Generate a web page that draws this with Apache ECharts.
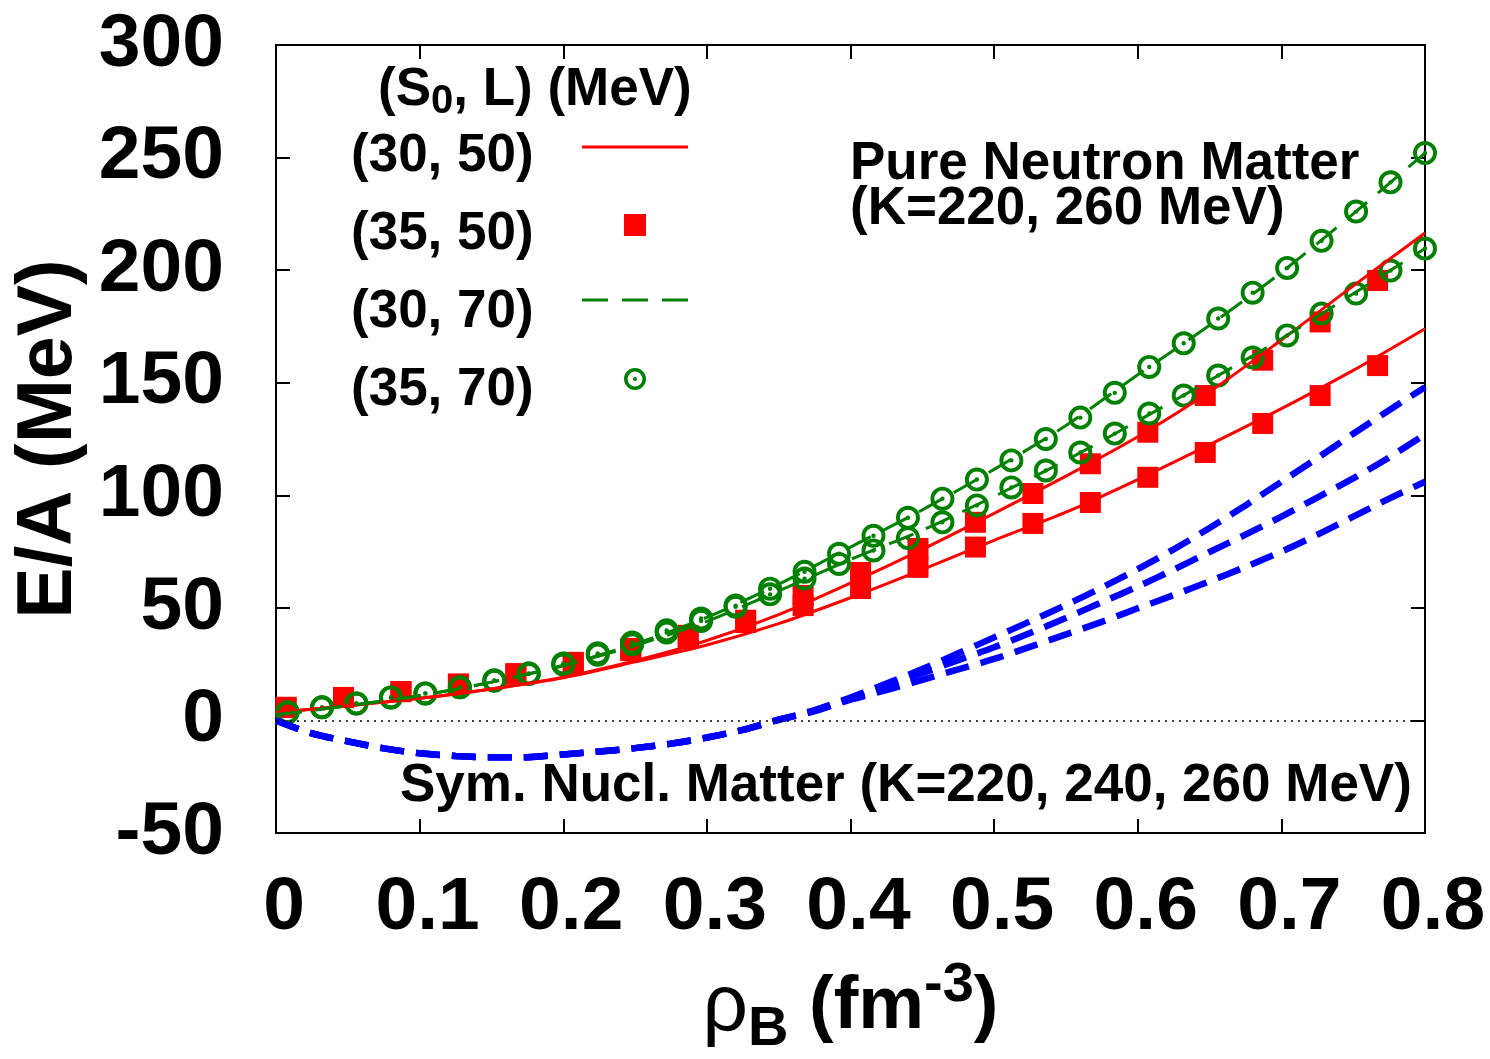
<!DOCTYPE html>
<html>
<head>
<meta charset="utf-8">
<script src="https://cdn.jsdelivr.net/npm/echarts@6/dist/echarts.min.js"></script>
<style>
  html, body { margin: 0; padding: 0; background: #fff; }
  #chart { width: 1490px; height: 1059px; }
</style>
</head>
<body>
<div id="chart"></div>
<script>
// density grid of the curves (fm^-3)
const rhoLine = [0, 0.05, 0.1, 0.15, 0.2, 0.25, 0.3, 0.35, 0.4, 0.45, 0.5, 0.55, 0.6, 0.65, 0.7, 0.75, 0.8]
// (S0, L) = (30, 50), K = 260 and 220
const red260 = [3.5, 6.5, 9.8, 14, 19.2, 26.5, 35.5, 47, 61, 76, 92, 108.5, 126, 146, 169, 193, 216.5]
const red220 = [3.5, 6.5, 9.8, 14, 19, 26, 33.5, 43, 54.5, 67, 80, 92.5, 107, 122.5, 138.5, 155.5, 174]
// (S0, L) = (30, 70)
const green260 = [2.5, 6.5, 11, 17, 24.5, 34, 45.8, 60.5, 77, 93.5, 111.5, 131, 153.5, 175.5, 199, 225, 252]
const green220 = [2.5, 6.5, 11, 17, 24.3, 33.3, 44, 57.5, 71.5, 84.5, 99.5, 115.5, 133, 151, 169.5, 189.5, 209.6]

// (S0, L) = (35, 50) squares
const rhoSq = [0.007, 0.047, 0.087, 0.127, 0.167, 0.207, 0.247, 0.287, 0.327, 0.367,
  0.407, 0.447, 0.487, 0.527, 0.567, 0.607, 0.647, 0.687, 0.727, 0.767]
const sq260 = [5.8, 10.2, 12.8, 16.2, 20.8, 25.8, 32, 37.8, 44.5, 55.5,
  65.7, 76.4, 88, 100.8, 114, 128, 144.3, 160, 177, 195.4]
const sq220 = [5.8, 10.2, 12.8, 16, 20.5, 25.3, 31, 36.5, 43.5, 51,
  58.6, 68, 77, 87.5, 96.8, 108, 119, 131.9, 144.3, 157.6]

// (S0, L) = (35, 70) circles
const rhoCirc = [0.008, 0.032, 0.056, 0.08, 0.104, 0.128, 0.152, 0.176, 0.2, 0.224,
  0.248, 0.272, 0.296, 0.32, 0.344, 0.368, 0.392, 0.416, 0.44, 0.464,
  0.488, 0.512, 0.536, 0.56, 0.584, 0.608, 0.632, 0.656, 0.68, 0.704,
  0.728, 0.752, 0.776, 0.8]
const circ260 = [3.6, 5.8, 7.5, 10.2, 12, 14.7, 17.8, 20.9, 25.3, 29.8,
  34.6, 40, 45.3, 51, 58.5, 66, 74, 82, 90, 98.5,
  107, 115.5, 125, 134.5, 145.5, 157, 167.5, 178.5, 190, 201,
  213, 226, 239, 252]
const circ220 = [3.6, 5.8, 7.5, 10.2, 12, 14.7, 17.6, 20.6, 24.8, 29.2,
  33.8, 39, 44.2, 50.5, 56, 63, 69.5, 75.5, 81, 88,
  95.5, 103.5, 111, 119, 127.4, 136.3, 144.3, 153.2, 161.2, 171,
  180.7, 189.6, 199.8, 209.6]

// symmetric nuclear matter, K = 220, 240, 260
const rhoSnm = [0, 0.025, 0.05, 0.075, 0.1, 0.125, 0.15, 0.175, 0.2, 0.225, 0.25, 0.275, 0.3,
  0.325, 0.35, 0.375, 0.4, 0.425, 0.45, 0.475, 0.5, 0.525, 0.55, 0.575, 0.6,
  0.625, 0.65, 0.675, 0.7, 0.725, 0.75, 0.775, 0.8]
const snm260 = [0, -5.8, -9.3, -12.4, -14.6, -15.8, -16.4, -16.3, -15.1, -13.8, -12.3, -10.3, -7.6,
  -4.2, 0.3, 4.6, 10.2, 16.4, 22.8, 29.8, 36.9, 44, 51.3, 59, 67.2,
  76, 85.5, 95.5, 106, 116.5, 127.3, 137.8, 148]
const snm240 = [0, -5.8, -9.3, -12.4, -14.6, -15.8, -16.4, -16.3, -15.1, -13.8, -12.3, -10.3, -7.6,
  -4.2, 0.3, 4.3, 9.7, 15.3, 21, 26.8, 32.5, 38.8, 45.5, 52.5, 59.5,
  67, 74.8, 82.5, 90.5, 99, 107.5, 116.8, 127]
const snm220 = [0, -5.8, -9.3, -12.4, -14.6, -15.8, -16.4, -16.3, -15.1, -13.8, -12.3, -10.3, -7.6,
  -4.2, 0.3, 4.1, 9.2, 13.5, 18, 22.7, 27.3, 32.7, 38.2, 43.8, 49.8,
  55.7, 61.8, 68.2, 75, 82.5, 90.5, 98.5, 106]

const legendNames = ['(30, 50)', '(35, 50)', '(30, 70)', '(35, 70)']

const FONT = "'Liberation Sans', Arial, Helvetica, sans-serif"
const RED = '#ff0000'
const GREEN = '#008000'
const BLUE = '#0000ff'
// circle with a dot in the middle
const ringDot = 'path://M12,0A12,12,0,1,1,12,24A12,12,0,1,1,12,0Z' +
  'M12,3.9A8.1,8.1,0,1,0,12,20.1A8.1,8.1,0,1,0,12,3.9Z' +
  'M12,9.8A2.2,2.2,0,1,1,12,14.2A2.2,2.2,0,1,1,12,9.8Z'
const squareIcon = 'path://M0,0H20V20H0Z'
const solidIcon = 'path://M0,0H106V3H0Z'
const dashIcon = 'path://M0,0H26V3H0ZM40,0H66V3H40ZM80,0H106V3H80Z'
const legendIcons = [solidIcon, squareIcon, dashIcon, ringDot]
const iconTops = [136, 214, 289, 368]

const pairs = (xs, ys) => xs.map((x, i) => [x, ys[i]])

const lineSeries = (name, ys, color, type, width) => ({
  name,
  type: 'line',
  data: pairs(rhoLine, ys),
  symbol: 'none',
  smooth: 0.3,
  lineStyle: { color, type, width },
  itemStyle: { color }
})

const snmSeries = (ys) => ({
  type: 'line',
  data: pairs(rhoSnm, ys),
  symbol: 'none',
  smooth: 0.3,
  lineStyle: { color: BLUE, type: [24, 12], width: 6.5 }
})

const chart = echarts.init(document.getElementById('chart'))

const axisCommon = {
  type: 'value',
  axisLine: { show: true, onZero: false, lineStyle: { color: '#000', width: 2 } },
  axisTick: { show: true, inside: true, length: 14, lineStyle: { color: '#000', width: 2 } },
  splitLine: { show: false }
}

const bold = (size) => ({ fontSize: size, fontWeight: 'bold', fontFamily: FONT, color: '#000' })

// one small legend per key icon, so each sits where the original puts it
const iconLegends = legendNames.map((name, i) => ({
  data: [{ name, icon: legendIcons[i] }],
  orient: 'vertical',
  align: 'left',
  left: 582,
  top: iconTops[i],
  padding: 0,
  itemWidth: 106,
  itemHeight: 22,
  selectedMode: false,
  formatter: () => ''
}))

chart.setOption({
  animation: false,
  backgroundColor: '#fff',
  grid: { left: 276, right: 65, top: 45, bottom: 226, containLabel: false, outerBoundsMode: 'none' },
  xAxis: [
    {
      ...axisCommon,
      position: 'bottom',
      min: 0,
      max: 0.8,
      interval: 0.1,
      axisLabel: {
        ...bold(75),
        margin: 38,
        lineHeight: 75,
        padding: [0, 0, 0, 16],
        formatter: v => String(+v.toFixed(1))
      },
      name: '{r|ρ}{sub|B}{m| (fm}{sup|-3}{m|)}',
      nameLocation: 'middle',
      nameGap: 125,
      nameTextStyle: {
        rich: {
          r: { fontSize: 80, fontFamily: FONT, color: '#000', lineHeight: 100 },
          m: { ...bold(74), lineHeight: 100 },
          sub: { ...bold(56), lineHeight: 40, verticalAlign: 'bottom' },
          sup: { ...bold(56), lineHeight: 40, verticalAlign: 'top' }
        }
      }
    },
    {
      ...axisCommon,
      position: 'top',
      min: 0,
      max: 0.8,
      interval: 0.1,
      axisLabel: { show: false }
    }
  ],
  yAxis: [
    {
      ...axisCommon,
      position: 'left',
      min: -50,
      max: 300,
      interval: 50,
      axisLabel: { ...bold(75), margin: 52 },
      name: 'E/A (MeV)',
      nameLocation: 'middle',
      nameGap: 184,
      nameTextStyle: { ...bold(77), lineHeight: 77 }
    },
    {
      ...axisCommon,
      position: 'right',
      min: -50,
      max: 300,
      interval: 50,
      axisLabel: { show: false }
    }
  ],
  legend: [
    ...iconLegends,
    {
      data: legendNames.map(name => ({ name, icon: 'none' })),
      orient: 'vertical',
      align: 'right',
      left: 351,
      top: 130,
      padding: 0,
      itemGap: 25,
      itemWidth: 1,
      itemHeight: 22,
      selectedMode: false,
      textStyle: { ...bold(53), lineHeight: 52 }
    }
  ],
  graphic: [
    {
      type: 'text',
      x: 378,
      y: 58,
      style: {
        text: '{a|(S}{s|0}{a|, L) (MeV)}',
        rich: {
          a: { ...bold(53), fill: '#000', lineHeight: 64 },
          s: { ...bold(40), fill: '#000', lineHeight: 30, verticalAlign: 'bottom' }
        }
      }
    },
    {
      type: 'text',
      x: 850,
      y: 187,
      style: {
        text: 'Pure Neutron Matter\n(K=220, 260 MeV)',
        fontSize: 53,
        fontWeight: 'bold',
        fontFamily: FONT,
        fill: '#000',
        lineHeight: 45,
        align: 'left',
        verticalAlign: 'middle'
      }
    },
    {
      type: 'text',
      x: 400,
      y: 786,
      style: {
        text: 'Sym. Nucl. Matter (K=220, 240, 260 MeV)',
        fontSize: 53,
        fontWeight: 'bold',
        fontFamily: FONT,
        fill: '#000',
        align: 'left',
        verticalAlign: 'middle'
      }
    }
  ],
  series: [
    {
      ...snmSeries(snm260),
      markLine: {
        silent: true,
        symbol: 'none',
        label: { show: false },
        lineStyle: { color: '#000', type: [2, 5], width: 1.5 },
        data: [{ yAxis: 0 }]
      }
    },
    snmSeries(snm240),
    snmSeries(snm220),
    lineSeries('(30, 50)', red260, RED, 'solid', 3),
    lineSeries('(30, 50)', red220, RED, 'solid', 3),
    lineSeries('(30, 70)', green260, GREEN, [26, 14], 3),
    lineSeries('(30, 70)', green220, GREEN, [26, 14], 3),
    {
      name: '(35, 50)',
      type: 'scatter',
      data: pairs(rhoSq, sq260),
      symbol: 'rect',
      symbolSize: 21,
      itemStyle: { color: RED, opacity: 1 }
    },
    {
      name: '(35, 50)',
      type: 'scatter',
      data: pairs(rhoSq, sq220),
      symbol: 'rect',
      symbolSize: 21,
      itemStyle: { color: RED, opacity: 1 }
    },
    {
      name: '(35, 70)',
      type: 'scatter',
      data: pairs(rhoCirc, circ260),
      symbol: ringDot,
      symbolSize: 24,
      itemStyle: { color: GREEN, opacity: 1 }
    },
    {
      name: '(35, 70)',
      type: 'scatter',
      data: pairs(rhoCirc, circ220),
      symbol: ringDot,
      symbolSize: 24,
      itemStyle: { color: GREEN, opacity: 1 }
    }
  ]
})
</script>
</body>
</html>
